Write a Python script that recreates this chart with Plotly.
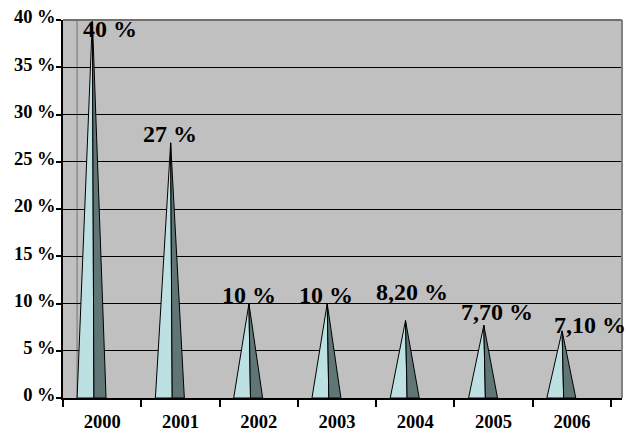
import plotly.graph_objects as go

# ---- data -------------------------------------------------------------
years = ["2000", "2001", "2002", "2003", "2004", "2005", "2006"]
rates = [40, 27, 10, 10, 8.2, 7.7, 7.1]
y_ticks = [0, 5, 10, 15, 20, 25, 30, 35, 40]


def pct_label(v):
    if float(v).is_integer():
        return f"{int(v)} %"
    return f"{v:.2f}".replace(".", ",") + " %"


# ---- styling ----------------------------------------------------------
SERIF = "'Times New Roman', 'Liberation Serif', Tinos, serif"
LIGHT_FACE = "#bde0e3"
DARK_FACE = "#607575"
WALL = "#c0c0c0"

# pyramid footprint, in category units relative to the category centre
APEX = -0.125
BASE_L = -0.32
BASE_M = -0.105
BASE_R = 0.05
WALL_DEPTH = 0.18  # left edge of the back wall (3-D depth)

# per-label pixel nudges (x, y)
label_nudge = [(18, -9), (-1, 9), (0, 9), (-1, 9), (6, 29), (13, 13), (28, 6)]

light_x, light_y, dark_x, dark_y = [], [], [], []
for i, v in enumerate(rates):
    light_x += [i + BASE_L, i + BASE_M, i + APEX, i + BASE_L, None]
    light_y += [0, 0, v, 0, None]
    dark_x += [i + BASE_M, i + BASE_R, i + APEX, i + BASE_M, None]
    dark_y += [0, 0, v, 0, None]

fig = go.Figure()
fig.add_trace(go.Scatter(x=light_x, y=light_y, mode="lines", fill="toself",
                         fillcolor=LIGHT_FACE, line=dict(color="black", width=1),
                         hoverinfo="skip", showlegend=False))
fig.add_trace(go.Scatter(x=dark_x, y=dark_y, mode="lines", fill="toself",
                         fillcolor=DARK_FACE, line=dict(color="black", width=1),
                         hoverinfo="skip", showlegend=False))

for i, (v, (dx, dy)) in enumerate(zip(rates, label_nudge)):
    fig.add_annotation(x=i + APEX, y=v, text=f"<b>{pct_label(v)}</b>", showarrow=False,
                       xanchor="center", yanchor="middle", xshift=dx, yshift=dy,
                       font=dict(family=SERIF, size=24, color="black"))

n = len(years)
fig.update_xaxes(
    range=[-0.5, n - 0.5 + 0.14], automargin=False,
    tickmode="array", tickvals=list(range(n)),
    ticktext=[f"<b>{y}</b>" for y in years], ticks="",
    ticklabelstandoff=6,
    minor=dict(tickmode="array", tickvals=[k - 0.5 for k in range(n + 1)],
               ticks="outside", ticklen=7, tickcolor="black", tickwidth=1.5),
    showgrid=False, zeroline=False,
    showline=True, linecolor="black", linewidth=1.5,
    tickfont=dict(family=SERIF, size=18.5, color="black"),
)
fig.update_yaxes(
    range=[0, 40], automargin=False, tickmode="array", tickvals=y_ticks,
    ticktext=[f"<b>{pct_label(t)}</b>" for t in y_ticks],
    ticks="outside", ticklen=5, tickcolor="black", tickwidth=1.5,
    ticklabelstandoff=-3, ticklabelshift=-3,
    showgrid=True, gridcolor="black", gridwidth=1, zeroline=False,
    showline=True, linecolor="black", linewidth=1.5,
    tickfont=dict(family=SERIF, size=18.5, color="black"),
)

# back-wall edge and plot-area frame
fig.add_shape(type="line", xref="x", yref="paper", x0=-0.5 + WALL_DEPTH,
              x1=-0.5 + WALL_DEPTH, y0=0, y1=1, line=dict(color="#8c8c8c", width=1.5),
              layer="below")
fig.add_shape(type="line", xref="paper", yref="paper", x0=0, x1=1, y0=1, y1=1,
              line=dict(color="#707070", width=2), layer="above")
fig.add_shape(type="line", xref="paper", yref="paper", x0=1, x1=1, y0=0, y1=1,
              line=dict(color="#808080", width=2), layer="above")

fig.update_layout(
    width=626, height=433,
    margin=dict(l=63, r=4, t=20, b=35),
    plot_bgcolor=WALL, paper_bgcolor="white",
    showlegend=False,
)

fig.write_html("out.html")
